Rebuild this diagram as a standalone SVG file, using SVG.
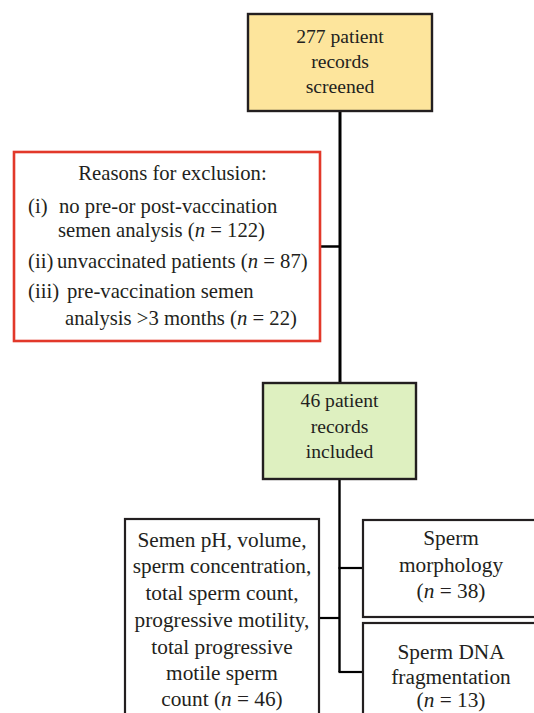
<svg xmlns="http://www.w3.org/2000/svg" width="534" height="713" viewBox="0 0 534 713" font-family="'Liberation Serif', 'Times New Roman', serif">
<style>
text{font-family:"Liberation Serif","Times New Roman",serif;fill:#231f20}
.c{text-anchor:middle}
.t{font-size:19.6px}
.r{font-size:20.7px}
.b{font-size:21.3px}
.box{stroke:#231f20;stroke-width:2.2;fill:#fff}
.ln{stroke:#000;fill:none}
</style>
<rect width="534" height="713" fill="#fff"/>
<g id="connectors">
<line class="ln" x1="340" y1="111" x2="340" y2="383" stroke-width="3"/>
<line class="ln" x1="320" y1="246.5" x2="340" y2="246.5" stroke-width="2.5"/>
<line class="ln" x1="339.5" y1="479" x2="339.5" y2="672" stroke-width="2.4"/>
<line class="ln" x1="338.5" y1="568" x2="363" y2="568" stroke-width="2.2"/>
<line class="ln" x1="338.5" y1="672" x2="363" y2="672" stroke-width="2.2"/>
<line class="ln" x1="319" y1="618" x2="340" y2="618" stroke-width="2.2"/>
</g>
<g id="screened">
<rect x="248" y="14" width="184" height="97" fill="#fde59c" stroke="#231f20" stroke-width="2.4"/>
<text class="t c" x="340" y="43">277 patient</text>
<text class="t c" x="340" y="68">records</text>
<text class="t c" x="340" y="93">screened</text>
</g>
<g id="exclusion">
<rect x="14" y="152" width="306" height="189" fill="#fff" stroke="#e2382a" stroke-width="2.6"/>
<text class="r c" x="172.5" y="180">Reasons for exclusion:</text>
<text class="r" x="28" y="213">(i)</text>
<text class="r" x="59" y="213">no pre-or post-vaccination</text>
<text class="r" x="58" y="237">semen analysis (<tspan font-style="italic">n</tspan> = 122)</text>
<text class="r" x="28" y="268">(ii)</text>
<text class="r" x="57" y="268">unvaccinated patients (<tspan font-style="italic">n</tspan> = 87)</text>
<text class="r" x="28" y="298">(iii)</text>
<text class="r" x="67" y="298">pre-vaccination semen</text>
<text class="r" x="65" y="325">analysis &gt;3 months (<tspan font-style="italic">n</tspan> = 22)</text>
</g>
<g id="included">
<rect x="263" y="383" width="153" height="96" fill="#def0c0" stroke="#231f20" stroke-width="2.4"/>
<text class="t c" x="339.5" y="407">46 patient</text>
<text class="t c" x="339.5" y="433">records</text>
<text class="t c" x="339.5" y="458">included</text>
</g>
<g id="semen">
<rect class="box" x="125" y="519" width="194" height="210"/>
<text class="b c" x="222" y="547">Semen pH, volume,</text>
<text class="b c" x="222" y="573">sperm concentration,</text>
<text class="b c" x="222" y="600">total sperm count,</text>
<text class="b c" x="222" y="627">progressive motility,</text>
<text class="b c" x="222" y="654">total progressive</text>
<text class="b c" x="222" y="680">motile sperm</text>
<text class="b c" x="222" y="706">count (<tspan font-style="italic">n</tspan> = 46)</text>
</g>
<g id="morphology">
<rect class="box" x="363" y="520" width="200" height="97"/>
<text class="b c" x="451" y="545">Sperm</text>
<text class="b c" x="451" y="572">morphology</text>
<text class="b c" x="451" y="598">(<tspan font-style="italic">n</tspan> = 38)</text>
</g>
<g id="dna">
<rect class="box" x="363" y="623" width="200" height="110"/>
<text class="b c" x="451" y="659">Sperm DNA</text>
<text class="b c" x="451" y="684">fragmentation</text>
<text class="b c" x="451" y="707">(<tspan font-style="italic">n</tspan> = 13)</text>
</g>
</svg>
